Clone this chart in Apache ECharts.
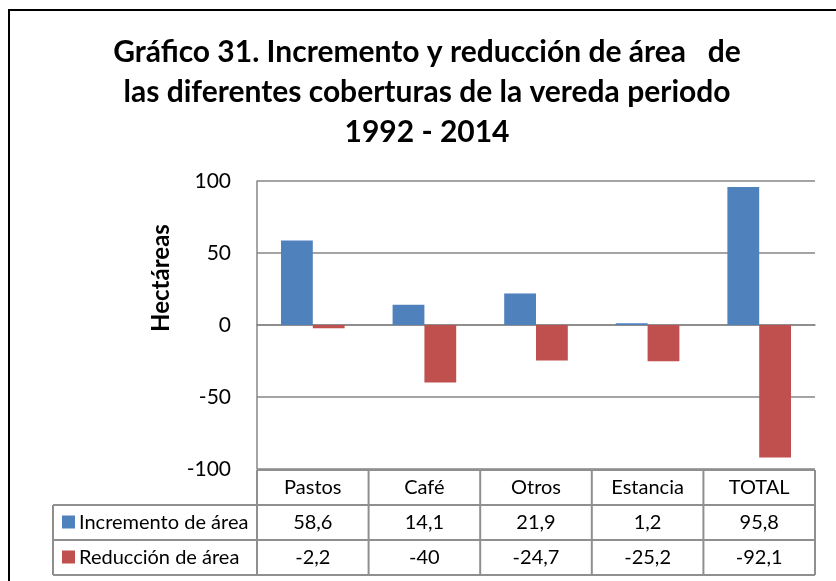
<!DOCTYPE html>
<html>
<head>
<meta charset="utf-8">
<script src="https://cdn.jsdelivr.net/npm/echarts@6/dist/echarts.min.js"></script>
<style>
html,body{margin:0;padding:0;background:#fff;}
#chart{width:836px;height:581px;}
</style>
</head>
<body>
<div id="chart"></div>
<script>
// datos del gráfico
var categories = ['Pastos', 'Café', 'Otros', 'Estancia', 'TOTAL'];
var incremento = [58.6, 14.1, 21.9, 1.2, 95.8];
var reduccion = [-2.2, -40, -24.7, -25.2, -92.1];
var seriesNames = ['Incremento de área', 'Reducción de área'];
var yMin = -100, yMax = 100, yStep = 50;

var colors = ['#4F81BD', '#C0504D'];
var FONT = 'Lato';
var lineGray = '#868686';

var chart = echarts.init(document.getElementById('chart'));

// layout
var gridL = 257, gridR = 815, gridT = 181, gridB = 469;
var tableL = 53, rowH = 35;

var option = {
	animation: false,
	title: {
		text: 'Gráfico 31. Incremento y reducción de área   de\nlas diferentes coberturas de la vereda periodo\n1992 - 2014',
		left: 422,
		top: 27,
		textAlign: 'center',
		textStyle: {fontFamily: FONT, fontWeight: 'bold', fontSize: 30, lineHeight: 40, color: '#000'}
	},
	grid: {left: gridL, top: gridT, right: 836 - gridR, bottom: 581 - gridB},
	xAxis: {
		type: 'category',
		data: categories,
		axisLine: {onZero: true, lineStyle: {color: lineGray, width: 1.5}},
		axisTick: {show: false},
		axisLabel: {show: false},
		splitLine: {show: false}
	},
	yAxis: {
		type: 'value',
		min: yMin,
		max: yMax,
		interval: yStep,
		axisLine: {show: true, lineStyle: {color: lineGray, width: 1.5}},
		axisTick: {show: false},
		axisLabel: {fontFamily: FONT, fontSize: 21, color: '#000', margin: 26},
		splitLine: {lineStyle: {color: lineGray, width: 1.5}}
	},
	series: [{
		type: 'bar',
		name: seriesNames[0],
		data: incremento,
		barGap: '0%',
		barCategoryGap: '43%',
		itemStyle: {color: colors[0]}
	}, {
		type: 'bar',
		name: seriesNames[1],
		data: reduccion,
		barGap: '0%',
		barCategoryGap: '43%',
		itemStyle: {color: colors[1]}
	}]
};
chart.setOption(option);

//tabla de datos debajo del gráfico
function fmt(v){
	return String(v).replace('.', ',');
}
var g = [];
// marco del gráfico
g.push({type: 'rect', shape: {x: 9, y: 10, width: 1000, height: 1000}, style: {fill: 'none', stroke: '#000', lineWidth: 2}, z: -1});
// título del eje
g.push({type: 'text', x: 161, y: 278, rotation: Math.PI / 2,
	style: {text: 'Hectáreas', fontFamily: FONT, fontWeight: 'bold', fontSize: 24, fill: '#000', align: 'center', verticalAlign: 'middle'}});

var c0 = chart.convertToPixel({xAxisIndex: 0}, 0);
var c1 = chart.convertToPixel({xAxisIndex: 0}, 1);
var band = c1 - c0;
var tStyle = {stroke: '#8f8f8f', lineWidth: 2};
var y0 = gridB + 1, y1 = y0 + rowH, y2 = y1 + rowH, y3 = y2 + rowH;
g.push({type: 'line', shape: {x1: gridL, y1: y0, x2: gridR, y2: y0}, style: tStyle});
[y1, y2, y3].forEach(function(yy){
	g.push({type: 'line', shape: {x1: tableL, y1: yy, x2: gridR, y2: yy}, style: tStyle});
});
g.push({type: 'line', shape: {x1: tableL, y1: y1, x2: tableL, y2: y3}, style: tStyle});
for(var k = 0; k <= categories.length; k++){
	var bx = c0 - band / 2 + k * band;
	g.push({type: 'line', shape: {x1: bx, y1: y0, x2: bx, y2: y3}, style: tStyle});
}
var txt = {fontFamily: FONT, fontSize: 20, fill: '#000', align: 'center', verticalAlign: 'middle'};
var rows = [incremento, reduccion];
for(var i = 0; i < categories.length; i++){
	var cx = chart.convertToPixel({xAxisIndex: 0}, i);
	g.push({type: 'text', x: cx, y: (y0 + y1) / 2, style: echarts.util.extend({text: categories[i]}, txt)});
	for(var r = 0; r < rows.length; r++){
		var ry = y1 + rowH * r + rowH / 2;
		g.push({type: 'text', x: cx, y: ry, style: echarts.util.extend({text: fmt(rows[r][i])}, txt)});
	}
}
for(var s = 0; s < seriesNames.length; s++){
	var sy = y1 + rowH * s + rowH / 2;
	g.push({type: 'rect', shape: {x: 62, y: sy - 7, width: 13, height: 13}, style: {fill: colors[s]}});
	g.push({type: 'text', x: 79, y: sy, style: {text: seriesNames[s], fontFamily: FONT, fontSize: 20, fill: '#000', align: 'left', verticalAlign: 'middle'}});
}
chart.setOption({graphic: g});
</script>
</body>
</html>
